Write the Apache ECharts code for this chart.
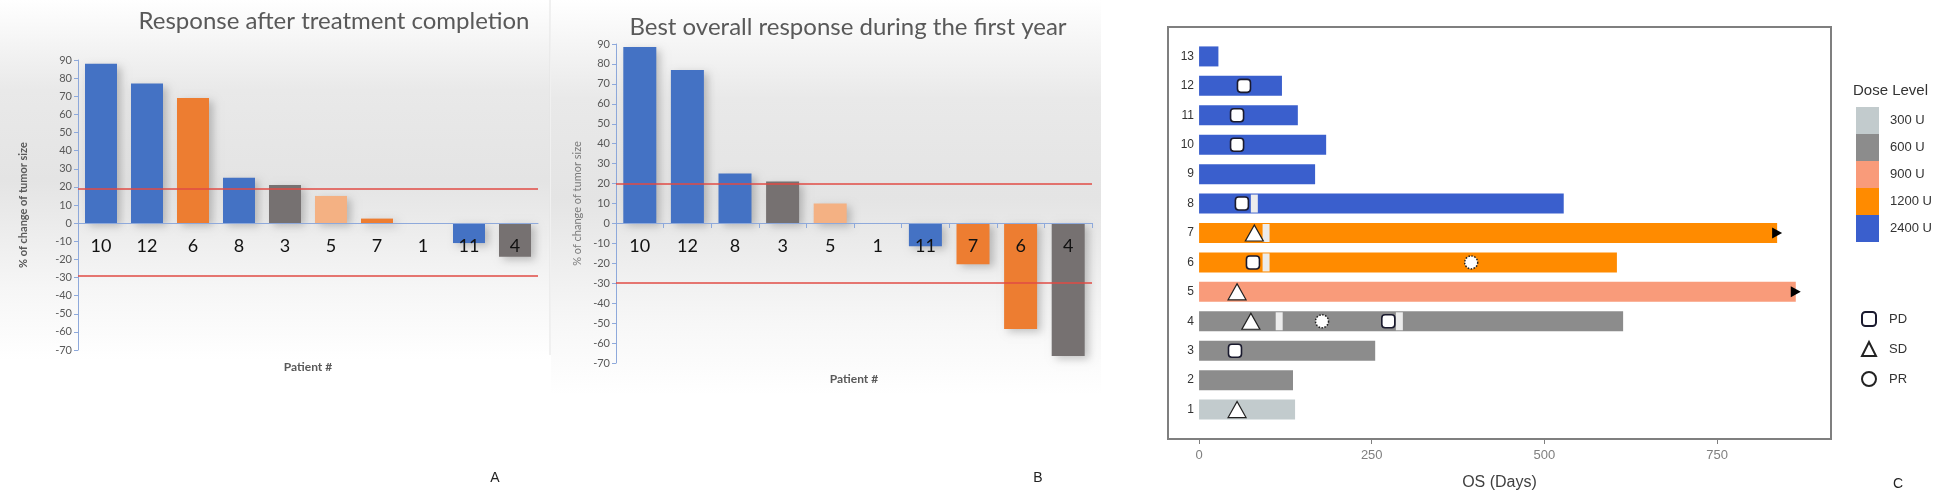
<!DOCTYPE html>
<html>
<head>
<meta charset="utf-8">
<script src="https://cdn.jsdelivr.net/npm/echarts@6/dist/echarts.min.js"></script>
<style>html,body{margin:0;padding:0;background:#fff}#c{width:1949px;height:500px}</style>
</head>
<body>
<div id="c"></div>
<script>
// ---------- Data ----------
// Panel A: Response after treatment completion
const catsA = ['10','12','6','8','3','5','7','1','11','4'];
const valsA = [88, 77, 69, 25, 21, 15, 2.5, 0, -11, -18.5];
// Panel B: Best overall response during the first year
const catsB = ['10','12','8','3','5','1','11','7','6','4'];
const valsB = [88.5, 77, 25, 21, 10, 0, -11.5, -20.5, -53, -66.5];
// Threshold lines
const threshA = [19, -29.3];
const threshB = [20, -29.6];

// Panel C: swimmer plot
const patients = [1,2,3,4,5,6,7,8,9,10,11,12,13];
const osDays   = [139,136,255,614,864,605,837,528,168,184,143,120,28];
const doseOf   = ['300 U','600 U','600 U','600 U','900 U','1200 U','1200 U','2400 U','2400 U','2400 U','2400 U','2400 U','2400 U'];
const doseLevels = ['300 U','600 U','900 U','1200 U','2400 U'];
const pdEvents = [[65,12],[55,11],[55,10],[62,8],[78,6],[274,4],[52,3]];
const sdEvents = [[80,7],[55,5],[75,4],[55,1]];
const prEvents = [[394,6],[178,4]];
const gapMarks = [[80,8],[97,7],[97,6],[116,4],[290,4]];
const ongoing  = [[837,7],[864,5]];
const osTicks  = [0,250,500,750];

// ---------- Styles ----------
const doseColors = {'300 U':'#c2cbcd','600 U':'#8c8c8c','900 U':'#f99b7a','1200 U':'#ff8b00','2400 U':'#3a5fcd'};
const abColors = {'300 U':'#a5a5a5','600 U':'#767171','900 U':'#f4b183','1200 U':'#ed7d31','2400 U':'#4472c4'};
function abColor(p){ return abColors[doseOf[Number(p)-1]]; }
const axisBlue = '#8ea9db';

function barSeriesAB(idx, cats, vals, thr){
  return {
    type:'bar', xAxisIndex:idx, yAxisIndex:idx, barWidth: idx===0?32:33,
    data: vals.map((v,i)=>({value:v, itemStyle:{color: abColor(cats[i])}})),
    itemStyle:{shadowColor:'rgba(0,0,0,0.22)', shadowBlur:8, shadowOffsetX:4, shadowOffsetY:3},
    markLine:{silent:true, symbol:'none', label:{show:false},
      lineStyle:{color:'#e04b45', width:1.5, type:'solid'},
      data: thr.map(t=>({yAxis:t}))},
    z:1
  };
}

function yAxisAB(idx, bold, gap){
  return {
    type:'value', gridIndex:idx, min:-70, max:90, interval:10,
    axisLine:{show:true, lineStyle:{color:axisBlue}},
    axisTick:{show:true, length:4, lineStyle:{color:axisBlue}},
    axisLabel:{color:'#595959', fontSize:11, fontFamily:'Lato', margin:6},
    splitLine:{show:false},
    name:'% of change of tumor size', nameLocation:'middle', nameGap:gap, nameRotate:90,
    nameTextStyle:{color: bold?'#595959':'#7a7a7a', fontSize:11, fontWeight: bold?'bold':'normal', fontFamily:'Lato'}
  };
}
function xAxisAB(idx, cats, ticks, offset, nameGap){
  return {
    type:'category', gridIndex:idx, data:cats, position:'bottom', offset:offset, z:10,
    axisLine:{show:true, onZero:false, lineStyle:{color:axisBlue}},
    axisTick:{show:ticks, length:5, lineStyle:{color:axisBlue}},
    axisLabel:{color:'#111', fontSize:18, fontFamily:'Lato', margin:14},
    name:'Patient #', nameLocation:'middle', nameGap:nameGap,
    nameTextStyle:{color:'#595959', fontSize:12, fontWeight:'bold', fontFamily:'Lato'}
  };
}

function swimSeries(level){
  const data = [];
  patients.forEach((p,i)=>{ if(doseOf[i]===level) data.push([osDays[i], p]); });
  return {
    type:'custom', name:level, xAxisIndex:2, yAxisIndex:2,
    itemStyle:{color:doseColors[level]},
    renderItem:function(params, api){
      const s = api.coord([0, api.value(1)]);
      const e = api.coord([api.value(0), api.value(1)]);
      const h = api.size([0,1])[1]*0.68;
      return {type:'rect', shape:{x:s[0], y:s[1]-h/2, width:e[0]-s[0], height:h},
        style:{fill:api.visual('color')}};
    },
    data:data, z:2
  };
}

const gradBg = {type:'linear', x:0, y:0, x2:0, y2:1, colorStops:[
  {offset:0, color:'#ffffff'},{offset:0.25, color:'#e9e9e9'},{offset:0.5, color:'#e4e4e4'},
  {offset:0.8, color:'#f6f6f6'},{offset:1, color:'#ffffff'}]};

const option = {
  animation:false,
  backgroundColor:'#ffffff',
  grid:[
    {left:78, top:60, width:460, height:290},
    {left:616, top:44, width:476, height:319},
    {left:1168, top:27, width:663, height:412, show:true, borderColor:'#7f7f7f', borderWidth:2, backgroundColor:'#ffffff'}
  ],
  xAxis:[
    xAxisAB(0, catsA, false, -127, 138),
    xAxisAB(1, catsB, true, -140, 150),
    {type:'value', gridIndex:2, min:-45, max:915,
      axisLine:{show:false}, splitLine:{show:false},
      axisTick:{show:true, customValues:osTicks, length:5, lineStyle:{color:'#7f7f7f'}},
      axisLabel:{customValues:osTicks, color:'#7f7f7f', fontSize:13, fontFamily:'Liberation Sans', margin:10},
      name:'OS (Days)', nameLocation:'middle', nameGap:36,
      nameTextStyle:{color:'#404040', fontSize:16, fontFamily:'Liberation Sans'}}
  ],
  yAxis:[
    yAxisAB(0, true, 49),
    yAxisAB(1, false, 33),
    {type:'value', gridIndex:2, min:0, max:14,
      axisLine:{show:false}, axisTick:{show:false}, splitLine:{show:false},
      axisLabel:{customValues:patients, inside:true, align:'right', margin:26, color:'#333', fontSize:12, fontFamily:'Liberation Sans'}}
  ],
  legend:[
    {data:doseLevels, orient:'vertical', left:1856, top:107, itemWidth:23, itemHeight:27, itemGap:0,
      icon:'rect', padding:0, selectedMode:false,
      textStyle:{color:'#333', fontSize:13, fontFamily:'Liberation Sans', padding:[0,0,0,6]}},
    {data:['PD','SD','PR'], orient:'vertical', left:1861, top:311, itemWidth:14, itemHeight:14, itemGap:14,
      padding:0, selectedMode:false,
      textStyle:{color:'#333', fontSize:13, fontFamily:'Liberation Sans', padding:[0,0,0,8]}}
  ],
  title:[{text:'Dose Level', left:1853, top:83, padding:0,
    textStyle:{color:'#333', fontSize:15, fontWeight:'normal', fontFamily:'Liberation Sans'}}],
  graphic:[
    {type:'rect', shape:{x:0, y:0, width:550, height:360}, style:{fill:gradBg}, z:-10, silent:true},
    {type:'rect', shape:{x:551, y:0, width:550, height:395}, style:{fill:gradBg}, z:-10, silent:true},
    {type:'line', shape:{x1:550, y1:0, x2:550, y2:355}, style:{stroke:'#e2e2e2', lineWidth:1}, z:-5, silent:true},
    {type:'text', x:334, y:21, style:{text:'Response after treatment completion', fill:'#595959', font:'24px Lato', textAlign:'center', textVerticalAlign:'middle'}},
    {type:'text', x:848, y:27, style:{text:'Best overall response during the first year', fill:'#595959', font:'24px Lato', textAlign:'center', textVerticalAlign:'middle'}},
    {type:'text', x:495, y:478, style:{text:'A', fill:'#222', font:'14px "Liberation Sans"', textAlign:'center', textVerticalAlign:'middle'}},
    {type:'text', x:1038, y:478, style:{text:'B', fill:'#222', font:'14px "Liberation Sans"', textAlign:'center', textVerticalAlign:'middle'}},
    {type:'text', x:1898, y:484, style:{text:'C', fill:'#222', font:'14px "Liberation Sans"', textAlign:'center', textVerticalAlign:'middle'}}
  ],
  series:[
    barSeriesAB(0, catsA, valsA, threshA),
    barSeriesAB(1, catsB, valsB, threshB),
    ...doseLevels.map(swimSeries),
    {type:'scatter', xAxisIndex:2, yAxisIndex:2, data:gapMarks, symbol:'rect', symbolSize:[7,18],
      itemStyle:{color:'#ececec', opacity:1}, z:3, silent:true},
    {type:'scatter', xAxisIndex:2, yAxisIndex:2, data:ongoing, symbol:'triangle', symbolSize:[11,10], symbolRotate:-90,
      itemStyle:{color:'#000', opacity:1}, z:4, silent:true},
    {type:'scatter', name:'PD', xAxisIndex:2, yAxisIndex:2, data:pdEvents, symbol:'roundRect', symbolSize:13,
      itemStyle:{color:'#fff', opacity:1, borderColor:'#1a1a2e', borderWidth:1.6}, z:5},
    {type:'scatter', name:'SD', xAxisIndex:2, yAxisIndex:2, data:sdEvents, symbol:'triangle', symbolSize:[18,16],
      itemStyle:{color:'#fff', opacity:1, borderColor:'#222', borderWidth:1.2}, z:5},
    {type:'scatter', name:'PR', xAxisIndex:2, yAxisIndex:2, data:prEvents, symbol:'circle', symbolSize:13,
      itemStyle:{color:'#fff', opacity:1, borderColor:'#222', borderWidth:1.5, borderType:'dotted'}, z:5}
  ]
};
const chart = echarts.init(document.getElementById('c'), null, {renderer:'canvas'});
chart.setOption(option);
</script>
</body>
</html>
